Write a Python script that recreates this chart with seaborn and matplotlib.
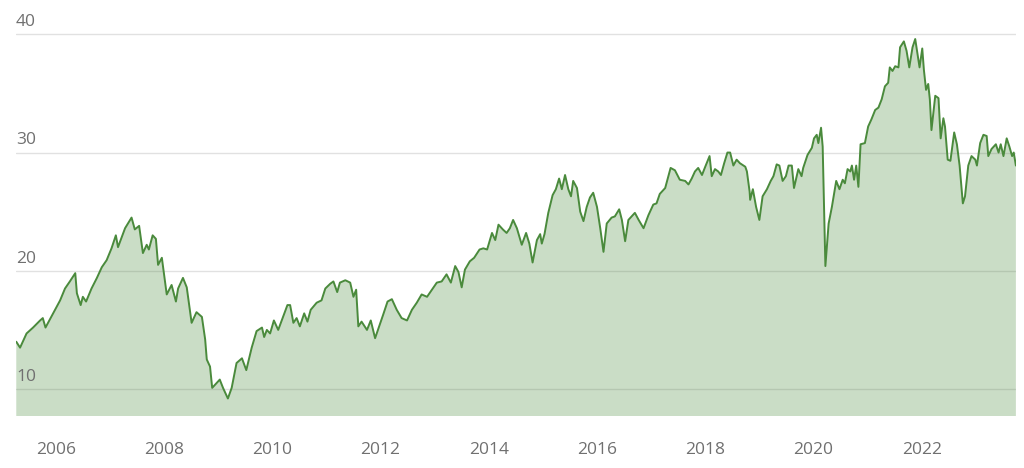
import matplotlib
matplotlib.use("Agg")
import matplotlib.pyplot as plt
import matplotlib.transforms as mtransforms
import seaborn as sns
import pandas as pd

years = [
    2005.27, 2005.34, 2005.46, 2005.58, 2005.71, 2005.76, 2005.81, 2005.95, 2006.08, 2006.17,
    2006.26, 2006.36, 2006.39, 2006.46, 2006.50, 2006.56, 2006.66, 2006.76, 2006.85, 2006.94,
    2007.03, 2007.11, 2007.15, 2007.28, 2007.40, 2007.46, 2007.54, 2007.61, 2007.68, 2007.72,
    2007.79, 2007.85, 2007.89, 2007.96, 2008.05, 2008.14, 2008.22, 2008.26, 2008.35, 2008.42,
    2008.51, 2008.60, 2008.70, 2008.76, 2008.79, 2008.85, 2008.89, 2008.97, 2009.03, 2009.09,
    2009.18, 2009.25, 2009.34, 2009.44, 2009.52, 2009.62,
    2009.71, 2009.81, 2009.85, 2009.90, 2009.96, 2010.03, 2010.11, 2010.20, 2010.28, 2010.33,
    2010.39, 2010.45, 2010.51, 2010.59, 2010.65, 2010.71, 2010.82, 2010.91, 2010.98, 2011.07,
    2011.13, 2011.20, 2011.25, 2011.35, 2011.44, 2011.50, 2011.55, 2011.59, 2011.65, 2011.75,
    2011.82, 2011.90, 2011.96, 2012.05, 2012.13, 2012.21, 2012.30, 2012.39, 2012.49, 2012.58,
    2012.67, 2012.76, 2012.86, 2012.95, 2013.04, 2013.13, 2013.22, 2013.30, 2013.38, 2013.44,
    2013.50, 2013.56, 2013.65, 2013.73, 2013.83, 2013.90, 2013.97, 2014.06, 2014.12, 2014.18,
    2014.26,
    2014.33, 2014.39, 2014.45, 2014.52, 2014.61, 2014.69, 2014.75, 2014.81, 2014.89, 2014.95,
    2014.98, 2015.03, 2015.10, 2015.18, 2015.24, 2015.30, 2015.35, 2015.41, 2015.47, 2015.52,
    2015.56, 2015.63, 2015.69, 2015.75, 2015.81, 2015.87, 2015.93, 2016.00, 2016.06, 2016.12,
    2016.18, 2016.27, 2016.33, 2016.41, 2016.46, 2016.52, 2016.58, 2016.64, 2016.70, 2016.77,
    2016.86, 2016.95, 2017.04, 2017.10, 2017.16, 2017.26, 2017.32, 2017.36, 2017.44, 2017.53,
    2017.63, 2017.69, 2017.75, 2017.81, 2017.87, 2017.94, 2018.00, 2018.08, 2018.12, 2018.18,
    2018.24, 2018.29, 2018.35, 2018.41, 2018.46, 2018.52, 2018.58, 2018.64, 2018.74, 2018.77,
    2018.82,
    2018.83, 2018.88, 2018.94, 2019.00, 2019.06, 2019.14, 2019.21, 2019.26, 2019.32, 2019.37,
    2019.43, 2019.49, 2019.54, 2019.60, 2019.64, 2019.72, 2019.78, 2019.81, 2019.89, 2019.97,
    2020.01, 2020.06, 2020.09, 2020.14, 2020.17, 2020.22, 2020.28, 2020.34, 2020.42, 2020.48,
    2020.54, 2020.58, 2020.63, 2020.68, 2020.71, 2020.75, 2020.79, 2020.83, 2020.87, 2020.95,
    2021.01, 2021.07, 2021.14, 2021.20, 2021.26, 2021.32, 2021.38, 2021.41, 2021.46, 2021.51,
    2021.57, 2021.60, 2021.67, 2021.72, 2021.77, 2021.83, 2021.88, 2021.92, 2021.96, 2022.01,
    2022.04, 2022.08, 2022.12, 2022.15, 2022.18, 2022.25, 2022.31, 2022.35, 2022.40, 2022.43,
    2022.48, 2022.53, 2022.57, 2022.60, 2022.65, 2022.70, 2022.76, 2022.80, 2022.86, 2022.92,
    2022.99, 2023.02, 2023.08, 2023.14, 2023.20, 2023.23, 2023.29, 2023.37, 2023.42, 2023.46,
    2023.51, 2023.57, 2023.62, 2023.67, 2023.70, 2023.74,
]

values = [
    14.0, 13.5, 14.7, 15.2, 15.8, 16.0, 15.2, 16.4, 17.5, 18.5,
    19.1, 19.8, 18.1, 17.1, 17.8, 17.4, 18.5, 19.4, 20.3, 20.9,
    21.9, 23.0, 22.0, 23.6, 24.5, 23.5, 23.8, 21.5, 22.2, 21.8,
    23.0, 22.7, 20.5, 21.1, 18.0, 18.8, 17.4, 18.5, 19.4, 18.6,
    15.6, 16.5, 16.1, 14.2, 12.5, 11.9, 10.1, 10.5, 10.8, 10.1,
    9.2, 10.1, 12.2, 12.6, 11.6, 13.5,
    14.9, 15.2, 14.4, 15.0, 14.7, 15.8, 15.0, 16.1, 17.1, 17.1,
    15.6, 16.0, 15.3, 16.4, 15.7, 16.7, 17.3, 17.5, 18.5, 18.9,
    19.1, 18.2, 19.0, 19.2, 19.0, 17.8, 18.4, 15.3, 15.7, 15.0,
    15.8, 14.3, 15.1, 16.3, 17.4, 17.6, 16.7, 16.0, 15.8, 16.7,
    17.3, 18.0, 17.8, 18.4, 19.0, 19.1, 19.7, 19.0, 20.4, 19.9,
    18.6, 20.1, 20.8, 21.1, 21.8, 21.9, 21.8, 23.2, 22.6, 23.9,
    23.5,
    23.2, 23.6, 24.3, 23.6, 22.2, 23.2, 22.3, 20.7, 22.6, 23.1,
    22.3, 23.1, 24.9, 26.4, 26.9, 27.8, 26.9, 28.1, 26.9, 26.3,
    27.6, 27.0, 25.0, 24.2, 25.4, 26.2, 26.6, 25.4, 23.6, 21.6,
    24.0, 24.5, 24.6, 25.2, 24.3, 22.5, 24.3, 24.6, 24.9, 24.3,
    23.6, 24.7, 25.6, 25.7, 26.5, 27.0, 28.0, 28.7, 28.5, 27.7,
    27.6, 27.3, 27.8, 28.4, 28.7, 28.1, 28.8, 29.7, 28.0, 28.6,
    28.4, 28.1, 29.1, 30.0, 30.0, 28.9, 29.4, 29.1, 28.8, 28.4,
    26.7,
    26.0, 26.9, 25.4, 24.3, 26.3, 26.9, 27.6, 28.0, 29.0, 28.9,
    27.6, 28.0, 28.9, 28.9, 27.0, 28.6, 28.0, 28.7, 29.8, 30.4,
    31.2, 31.5, 30.8, 32.1, 30.5, 20.4, 24.0, 25.4, 27.6, 26.9,
    27.7, 27.4, 28.6, 28.4, 28.9, 27.7, 28.9, 27.1, 30.7, 30.8,
    32.2, 32.8, 33.6, 33.8, 34.5, 35.6, 35.9, 37.2, 36.9, 37.3,
    37.2, 38.9, 39.4, 38.6, 37.2, 38.9, 39.6, 38.4, 37.2, 38.8,
    37.0, 35.3, 35.8, 34.5, 31.9, 34.8, 34.6, 31.2, 32.9, 32.2,
    29.4, 29.3, 30.7, 31.7, 30.7, 28.9, 25.7, 26.3, 28.9, 29.7,
    29.4, 28.9, 30.8, 31.5, 31.4, 29.7, 30.3, 30.7, 30.0, 30.7,
    29.7, 31.2, 30.5, 29.7, 30.0, 28.9,
]

x_ticks = [2006, 2008, 2010, 2012, 2014, 2016, 2018, 2020, 2022]
x_tick_labels = ["2006", "2008", "2010", "2012", "2014", "2016", "2018", "2020", "2022"]
y_ticks = [10, 20, 30, 40]
y_tick_labels = ["10", "20", "30", "40"]

df = pd.DataFrame({"year": years, "value": values})

sns.set_style("white")
plt.rcParams["font.family"] = ["Open Sans", "DejaVu Sans"]

LINE = "#4a8a3c"
TEXT = "#707070"

fig = plt.figure(figsize=(10.24, 4.68), dpi=100)
ax = fig.add_axes([16 / 1024, 52 / 468, 1000 / 1024, 416 / 468])

ax.set_xlim(2005.265, 2023.742)
ax.set_ylim(7.72, 42.9)

ax.set_yticks(y_ticks)
ax.set_yticklabels([])
ax.yaxis.grid(True, color="#e1e1e1", linewidth=1.0, zorder=0)
ax.xaxis.grid(False)
ax.set_axisbelow(True)

ax.fill_between(df["year"], df["value"], 0, color=LINE, alpha=0.29, linewidth=0, zorder=2)
sns.lineplot(data=df, x="year", y="value", estimator=None, sort=True,
             color=LINE, linewidth=1.4, ax=ax, zorder=3)

for s in ax.spines.values():
    s.set_visible(False)

ax.set_xticks(x_ticks)
ax.set_xticklabels(x_tick_labels, fontsize=12.5, color=TEXT)
ax.tick_params(axis="x", length=0, pad=19)
ax.tick_params(axis="y", length=0)
ax.set_xlabel("")
ax.set_ylabel("")

trans = mtransforms.blended_transform_factory(ax.transAxes, ax.transData)
for v, lab in zip(y_ticks, y_tick_labels):
    ax.annotate(lab, xy=(0, v), xycoords=trans, xytext=(0, 3), textcoords="offset points",
                ha="left", va="bottom", fontsize=12.5, color=TEXT, zorder=4)

fig.savefig("out.png", dpi=100)
